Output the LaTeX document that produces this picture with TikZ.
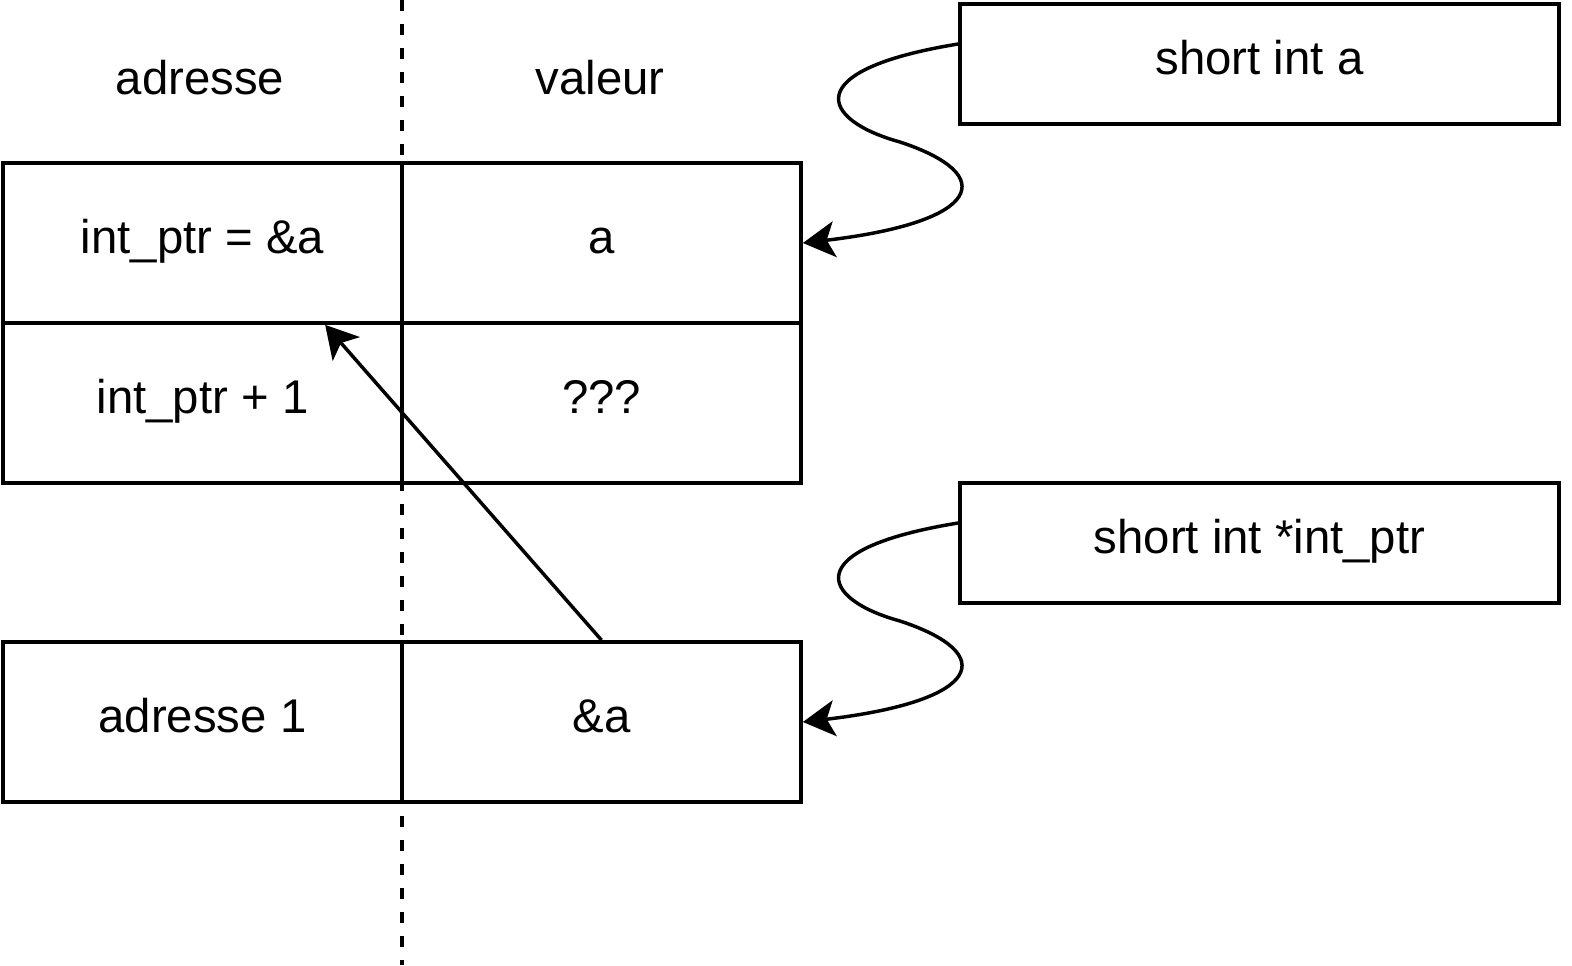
\documentclass[tikz,border=0pt]{standalone}
\usepackage{fontspec}
\setmainfont{Liberation Sans}
\usetikzlibrary{arrows.meta}

\tikzset{
  cell/.style={draw, line width=2.8pt, minimum width=299.25pt, minimum height=120pt, inner sep=0pt,
    text height=24pt, text depth=9pt},
  tag/.style={draw, line width=2.8pt, minimum width=449.25pt, minimum height=90pt, inner sep=0pt,
    text height=24pt, text depth=9pt},
  link/.style={line width=2.6pt, -{Stealth[length=24pt, width=27pt, inset=6pt]}},
}

\begin{document}
\begin{tikzpicture}[x=0.75pt,y=0.75pt,yscale=-1,xscale=1,
  font=\fontsize{35.5pt}{42pt}\selectfont]
\useasboundingbox (0,0) rectangle (1572,965);

% separation adresse / valeur
\coordinate (top) at (402,0);
\coordinate (bot) at (402,965);
\draw [line width=2.6pt, dash pattern=on 8.5pt off 9.5pt] (top) -- (bot);

\node (hadr) at (200,78) {adresse};
\node (hval) at (600,78) {valeur};

% memoire
\node [cell] (adr1) at (202.5,243) {int\_ptr = \&a};
\node [cell] (val1) at (601.5,243) {a};
\node [cell] (adr2) at (202.5,403) {int\_ptr + 1};
\node [cell] (val2) at (601.5,403) {???};
\node [cell] (adr3) at (202.5,722) {adresse 1};
\node [cell] (val3) at (601.5,722) {\&a};

% variables
\node [tag] (sa) at (1259.5,64) {short int a};
\node [tag] (sp) at (1259.5,543) {short int *int\_ptr};

\coordinate (mida) at (900,142);
\coordinate (midp) at (900,621);
\draw [link] ([yshift=-15pt]sa.west) .. controls +(-160,26) and +(-80,-22) .. (mida)
  .. controls +(100,33) and +(179,-21) .. (val1.east);
\draw [link] ([yshift=-15pt]sp.west) .. controls +(-160,26) and +(-80,-22) .. (midp)
  .. controls +(100,33) and +(179,-21) .. (val3.east);

\draw [link] (val3.north) -- ([xshift=92pt]adr1.south);

\end{tikzpicture}
\end{document}
